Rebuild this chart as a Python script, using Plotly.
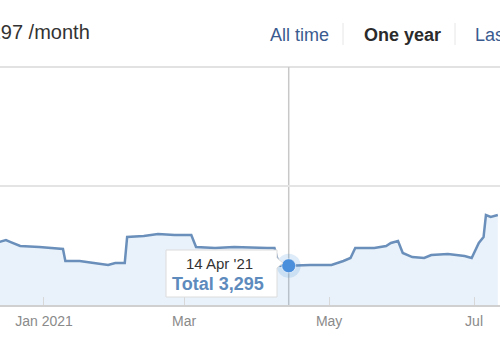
import plotly.graph_objects as go

# ---- data ----
dates = [
    "2020-12-13", "2020-12-16", "2020-12-18", "2020-12-22", "2020-12-30",
    "2021-01-05", "2021-01-09", "2021-01-10", "2021-01-16", "2021-01-22",
    "2021-01-28", "2021-01-31", "2021-02-04", "2021-02-05", "2021-02-12",
    "2021-02-18", "2021-02-25", "2021-03-04", "2021-03-06", "2021-03-14",
    "2021-03-22", "2021-04-05", "2021-04-08", "2021-04-10", "2021-04-14",
    "2021-04-23", "2021-05-02", "2021-05-07", "2021-05-10", "2021-05-12",
    "2021-05-20", "2021-05-25", "2021-05-27", "2021-05-30", "2021-06-01",
    "2021-06-05", "2021-06-10", "2021-06-13", "2021-06-20", "2021-06-27",
    "2021-06-30", "2021-07-03", "2021-07-05", "2021-07-06", "2021-07-08",
    "2021-07-11",
]
totals = [
    5290, 5460, 5290, 4960, 4870,
    4790, 4710, 3700, 3700, 3530,
    3360, 3530, 3530, 5710, 5800,
    5960, 5880, 5880, 4870, 4790,
    4870, 4790, 4790, 3300, 3295,
    3360, 3360, 3700, 3950, 4790,
    4790, 4960, 5210, 5380, 4370,
    4030, 3950, 4200, 4290, 4120,
    3950, 5210, 5710, 7560, 7400,
    7560,
]
hover_date = "2021-04-14"
hover_value = 3295
hover_label = "14 Apr '21"
tick_dates = ["2021-01-01", "2021-03-01", "2021-05-01", "2021-07-01"]
tick_labels = ["Jan 2021", "Mar", "May", "Jul"]
y_grid = [0, 10000, 20000]
header_text = "3,297 /month"
buttons = ["All time", "One year", "Last"]

W, H = 500, 350
L, R, T, B = 0, 0, 67, 45

def px(xp):
    return xp / W

def py(yp):
    # paper y from pixel y (top origin)
    return (H - B - yp) / (H - T - B)

fig = go.Figure()

fig.add_trace(go.Scatter(
    x=dates, y=totals, mode="lines",
    line=dict(color="#6a8fba", width=2.5),
    fill="tozeroy", fillcolor="rgba(74,144,217,0.12)",
    hoverinfo="skip",
))

# highlighted point
fig.add_trace(go.Scatter(
    x=[hover_date], y=[hover_value], mode="markers",
    marker=dict(size=24, color="rgba(74,144,217,0.18)"),
    hoverinfo="skip",
))
fig.add_trace(go.Scatter(
    x=[hover_date], y=[hover_value], mode="markers",
    marker=dict(size=14, color="#4a8fdc", line=dict(color="rgba(255,255,255,0.6)", width=1)),
    hoverinfo="skip",
))

shapes = [
    dict(type="line", xref="paper", yref="paper", x0=0, x1=1, y0=1, y1=1,
         line=dict(color="#e2e2e2", width=2), layer="below"),
    dict(type="line", xref="x", yref="paper", x0=hover_date, x1=hover_date,
         y0=0, y1=1, line=dict(color="#c8c8c8", width=1.5), layer="below"),
    # tooltip box
    dict(type="path", xref="paper", yref="paper",
         path=(f"M {px(166)},{py(250)} L {px(277)},{py(250)} L {px(277)},{py(258)} "
               f"L {px(283)},{py(263)} L {px(277)},{py(268)} L {px(277)},{py(297)} "
               f"L {px(166)},{py(297)} Z"),
         fillcolor="white", line=dict(color="#dcdcdc", width=1), layer="above"),
    # header button separators
    dict(type="line", xref="paper", yref="paper", x0=px(343), x1=px(343),
         y0=py(23), y1=py(45), line=dict(color="#e6e6e6", width=1)),
    dict(type="line", xref="paper", yref="paper", x0=px(455), x1=px(455),
         y0=py(23), y1=py(45), line=dict(color="#e6e6e6", width=1)),
]

font = "Liberation Sans, Arial, sans-serif"
annotations = [
    dict(xref="paper", yref="paper", x=px(92), y=py(32), xanchor="right", yanchor="middle",
         text=header_text, showarrow=False, font=dict(family=font, size=20, color="#333333")),
    dict(xref="paper", yref="paper", x=px(268), y=py(35), xanchor="left", yanchor="middle",
         text=buttons[0], showarrow=False, font=dict(family=font, size=18, color="#3a5b8f")),
    dict(xref="paper", yref="paper", x=px(362), y=py(35), xanchor="left", yanchor="middle",
         text="<b>" + buttons[1] + "</b>", showarrow=False, font=dict(family=font, size=18, color="#2b2b2b")),
    dict(xref="paper", yref="paper", x=px(473), y=py(35), xanchor="left", yanchor="middle",
         text=buttons[2], showarrow=False, font=dict(family=font, size=18, color="#3a5b8f")),
    dict(xref="paper", yref="paper", x=px(219), y=py(263), xanchor="center", yanchor="middle",
         text=hover_label, showarrow=False, font=dict(family=font, size=15, color="#333333")),
    dict(xref="paper", yref="paper", x=px(218), y=py(284), xanchor="center", yanchor="middle",
         text=f"<b>Total {hover_value:,}</b>", showarrow=False,
         font=dict(family=font, size=18, color="#5e8bbd")),
]

fig.update_layout(
    width=W, height=H,
    margin=dict(l=L, r=R, t=T, b=B, pad=0),
    paper_bgcolor="white", plot_bgcolor="white",
    showlegend=False,
    shapes=shapes, annotations=annotations,
    font=dict(family=font),
    xaxis=dict(
        type="date",
        range=["2020-12-13 12:00", "2021-07-11 22:00"],
        tickvals=tick_dates, ticktext=tick_labels,
        ticks="inside", ticklen=8, tickcolor="#d8d8d8", tickwidth=1,
        showgrid=False, showline=True, linecolor="#d0d0d0", linewidth=1.5,
        tickfont=dict(family=font, size=14, color="#8a8a8a"),
        ticklabelstandoff=2,
        zeroline=False, fixedrange=True,
    ),
    yaxis=dict(
        range=[0, 20000], tickvals=y_grid, showticklabels=False,
        showgrid=True, gridcolor="#e4e4e4", gridwidth=1.5,
        zeroline=False, showline=False, fixedrange=True,
    ),
)

fig.write_html("out.html")
